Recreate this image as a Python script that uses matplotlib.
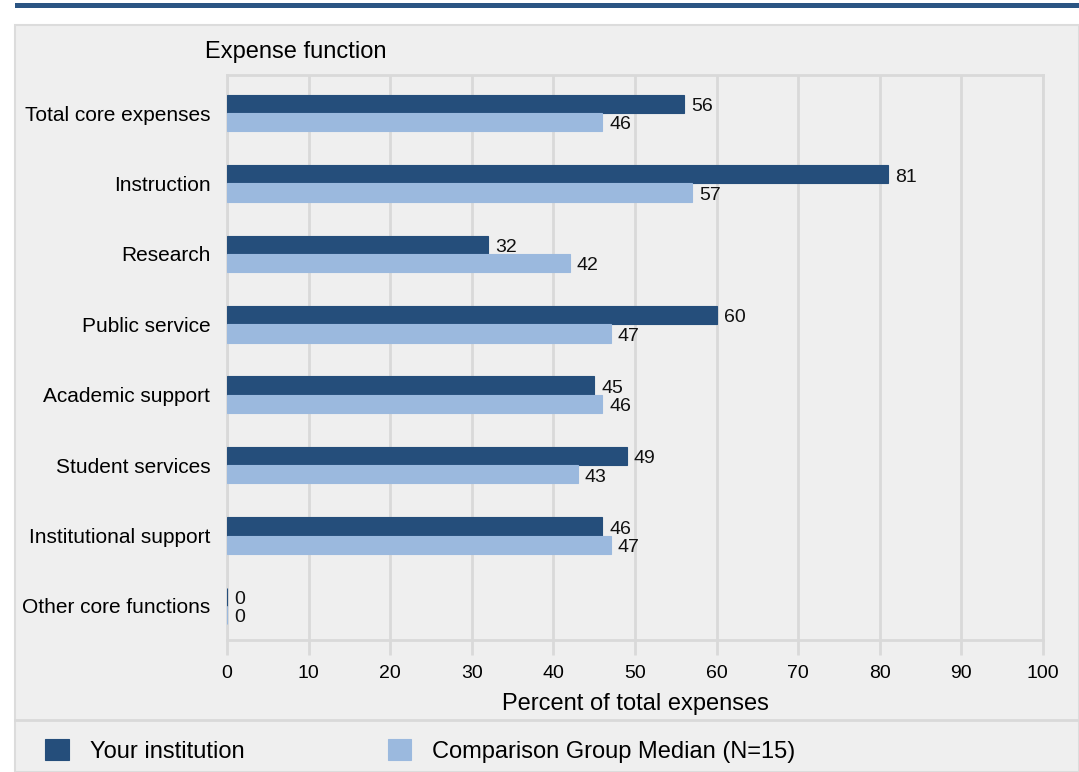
# Expense function chart: your institution vs comparison group median

import matplotlib.pyplot as plt
from matplotlib.patches import Rectangle
from matplotlib.lines import Line2D

plt.rcParams["font.family"] = ["Liberation Sans", "DejaVu Sans"]

# Data
categories = [
    "Total core expenses",
    "Instruction",
    "Research",
    "Public service",
    "Academic support",
    "Student services",
    "Institutional support",
    "Other core functions",
]
your_institution = [56, 81, 32, 60, 45, 49, 46, 0]
comparison_median = [46, 57, 42, 47, 46, 43, 47, 0]
series_names = ["Your institution", "Comparison Group Median (N=15)"]
x_ticks = [0, 10, 20, 30, 40, 50, 60, 70, 80, 90, 100]

dark = "#254e7b"
light = "#9bb9de"
panel = "#efefef"
grid_col = "#d9d9d9"

W, H = 1079, 772
fig = plt.figure(figsize=(W / 100, H / 100), dpi=100)
fig.patch.set_facecolor("white")

# Panel background, top strip and separator
fig.patches.append(Rectangle((15 / W, 0), 1 - 15 / W, (H - 25) / H, transform=fig.transFigure,
                             facecolor=panel, edgecolor="#dcdcdc", linewidth=1.5, zorder=-2))
fig.patches.append(Rectangle((15 / W, 1 - 8 / H), 1 - 15 / W, 5 / H, transform=fig.transFigure,
                             facecolor="#2b5583", edgecolor="none", zorder=-1))
fig.lines.append(Line2D([15 / W, 1], [1 - 720 / H, 1 - 720 / H], transform=fig.transFigure,
                        color=grid_col, linewidth=2, zorder=-1))

ax = fig.add_axes([227 / W, (H - 640) / H, (1043 - 227) / W, (640 - 75) / H])
ax.set_zorder(2)
ax.set_facecolor(panel)

y = list(range(len(categories)))
h = 0.26
ax.barh([v - h / 2 for v in y], your_institution, height=h, color=dark,
        edgecolor=dark, linewidth=0.8, label=series_names[0], zorder=3)
ax.barh([v + h / 2 for v in y], comparison_median, height=h, color=light,
        edgecolor=light, linewidth=0.8, label=series_names[1], zorder=3)

for i in y:
    ax.annotate(str(your_institution[i]), (your_institution[i], i - h / 2),
                xytext=(5, -2), textcoords="offset points", va="center", ha="left",
                fontsize=14, color="#111111")
    ax.annotate(str(comparison_median[i]), (comparison_median[i], i + h / 2),
                xytext=(5, -2), textcoords="offset points", va="center", ha="left",
                fontsize=14, color="#111111")

ax.set_xlim(0, 100)
ax.set_ylim(7.483, -0.54)
ax.set_xticks(x_ticks)
ax.set_yticks(y)
ax.set_yticklabels(categories, fontsize=15)
ax.tick_params(axis="y", length=0, pad=12)
ax.tick_params(axis="x", length=11, width=2, color=grid_col, labelsize=14, pad=7)
ax.grid(axis="x", color=grid_col, linewidth=2, zorder=0)
ax.set_axisbelow(True)
for s in ax.spines.values():
    s.set_color(grid_col)
    s.set_linewidth(2)

ax.set_xlabel("Percent of total expenses", fontsize=17, labelpad=8)
fig.text(205 / W, 1 - 52 / H, "Expense function", fontsize=17, va="center", ha="left")

# Legend
handles, labels = ax.get_legend_handles_labels()
fig.legend(handles, labels, loc="center left", bbox_to_anchor=(24 / W, 1 - 751 / H),
           ncol=2, frameon=False, fontsize=17, handlelength=1.0, handleheight=1.0,
           columnspacing=6.05, handletextpad=0.9)

fig.savefig("out.png", dpi=100, facecolor=fig.get_facecolor())
